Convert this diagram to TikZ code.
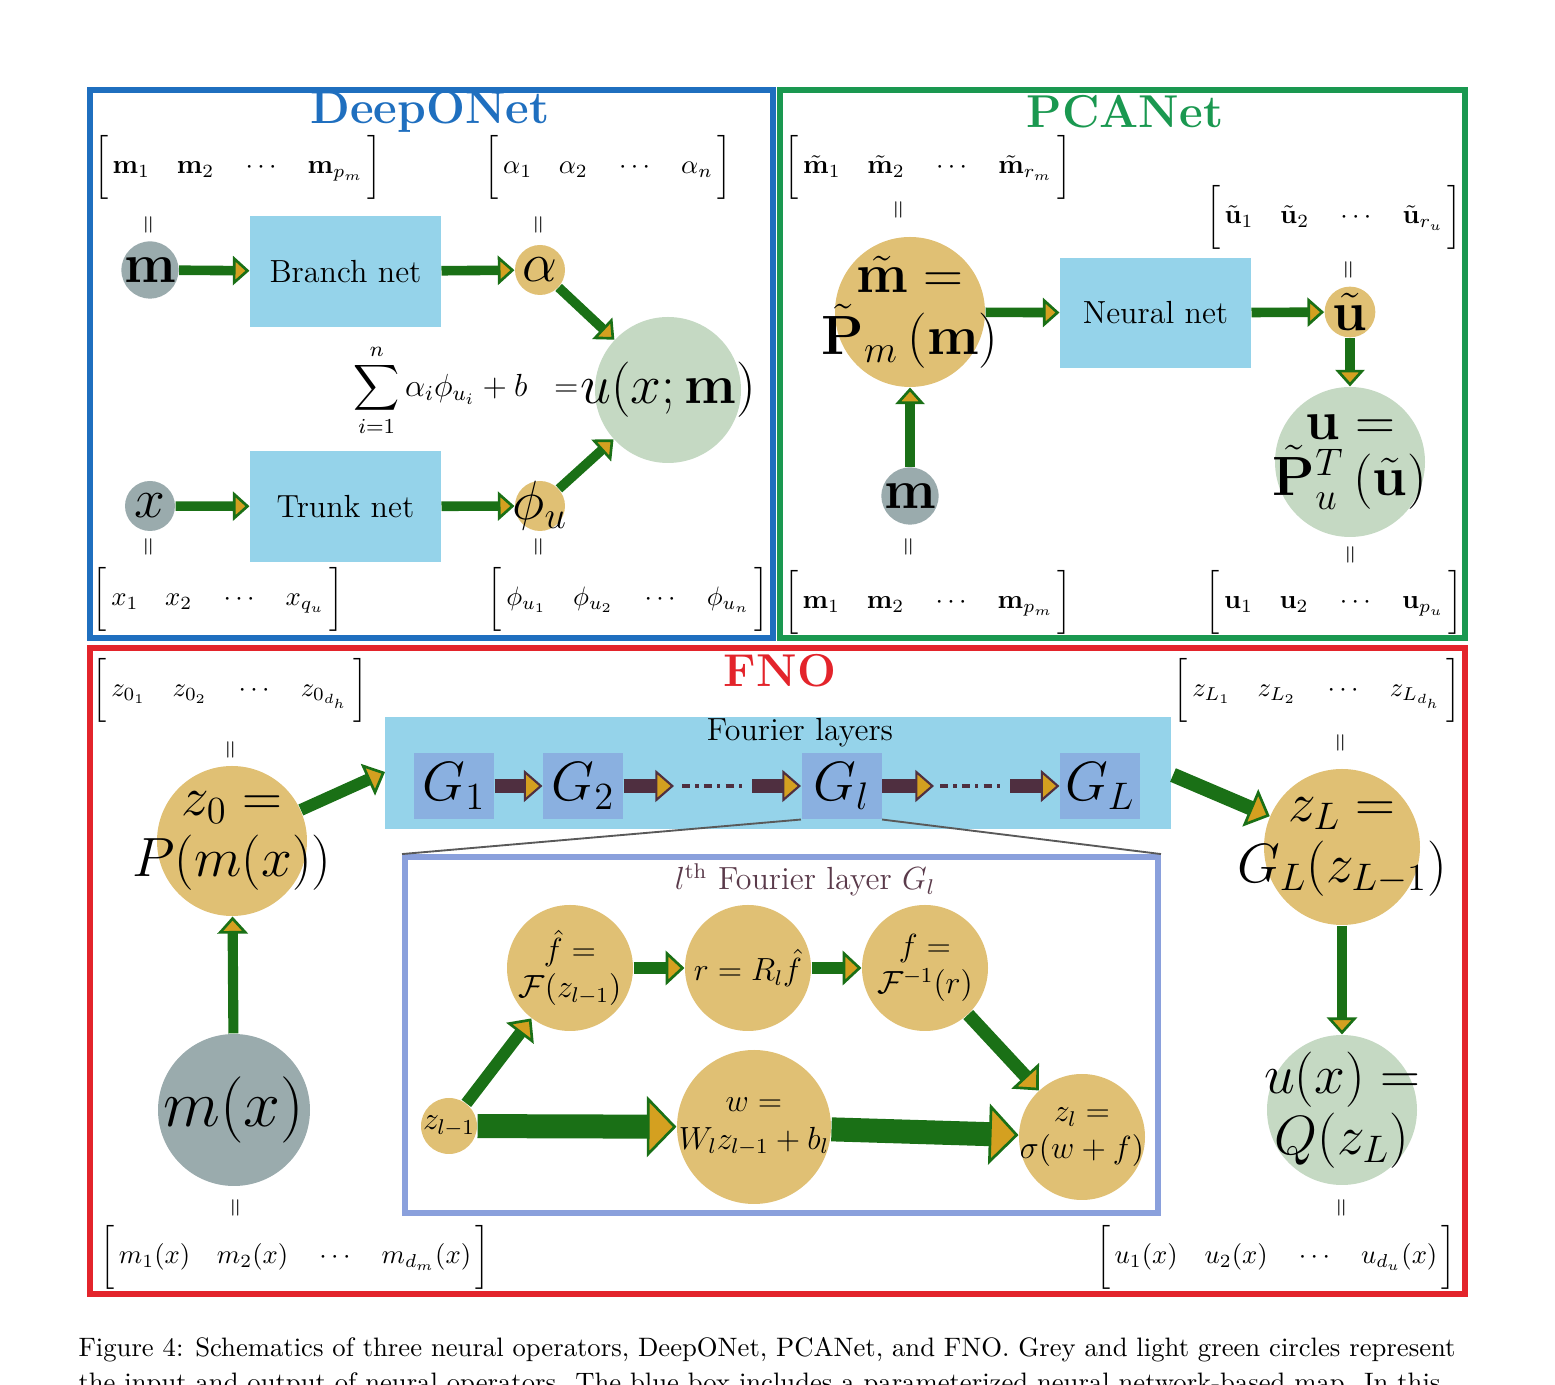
\documentclass[tikz,border=0pt]{standalone}
\usepackage{amsmath,amssymb,bm}
\usetikzlibrary{arrows.meta}
\definecolor{fblue}{HTML}{1F6FBF}
\definecolor{fgreen}{HTML}{1A9850}
\definecolor{fred}{HTML}{E3242B}
\definecolor{lblue}{HTML}{95D3EA}
\definecolor{gbox}{HTML}{8AB0E0}
\definecolor{ibox}{HTML}{8AA0DC}
\definecolor{orng}{HTML}{E0C074}
\definecolor{grey}{HTML}{9AABAD}
\definecolor{lgreen}{HTML}{C5D9C3}
\definecolor{agreen}{HTML}{1A7016}
\definecolor{ahead}{HTML}{D4A020}
\definecolor{purp}{HTML}{4F2F40}
\definecolor{tpurp}{HTML}{5A3A4A}
\newcommand\vrow[1]{$\bigg[\,#1\,\bigg]$}
\newcommand\eqv{\rotatebox{90}{$=$}}
\tikzset{
 frame/.style={line width=1.9pt},
 ttl/.style={font=\LARGE\bfseries},
 vec/.style={font=\normalsize, inner sep=0pt},
 par/.style={inner sep=0pt, font=\small},
 circ/.style={circle, inner sep=0pt, minimum size=#1*0.375pt, align=center},
 oc/.style={circ=#1, fill=orng},
 gc/.style={circ=#1, fill=grey},
 lc/.style={circ=#1, fill=lgreen},
 ct/.style={inner sep=0pt, align=center},
 bx/.style={fill=lblue, inner sep=0pt, font=\large, minimum width=71.6pt, minimum height=41.6pt},
 gb/.style={fill=gbox, inner sep=0pt, minimum width=30pt, minimum height=24.75pt, font=\huge},
 ga/.style={draw=agreen, line width=#1, -{Triangle[length=3pt 0.9, width=3pt 2.2, fill=ahead, line width=1pt]}},
 ga/.default=3.6pt,
 pa/.style={draw=purp, line width=5pt, -{Triangle[length=2pt 1.0, width=2pt 2.0, fill=ahead, line width=0.8pt]}},
}
\begin{document}
\begin{tikzpicture}[x=0.375pt,y=-0.375pt]
\useasboundingbox (0,0) rectangle (1555,1385);
% frames
\draw[frame,fblue] (90,90) rectangle (773,638);
\draw[frame,fgreen] (780,90) rectangle (1465,638);
\draw[frame,fred] (90,648) rectangle (1465,1294);
\node[ttl,text=fblue] (t1) at (430,112) {DeepONet};
\node[ttl,text=fgreen] (t2) at (1125,112) {PCANet};
\node[ttl,text=fred] (t3) at (780,671) {FNO};

% ---------- DeepONet
\node[vec] (vm) at (238,167) {\vrow{\mathbf{m}_1\quad\mathbf{m}_2\quad\cdots\quad\mathbf{m}_{p_m}}};
\node[vec] (va) at (608,167) {\vrow{\alpha_1\quad\alpha_2\quad\cdots\quad\alpha_n}};
\node[par] (p1) at (150,225) {\eqv};
\node[par] (p2) at (540,225) {\eqv};
\node[gc=50] (m) at (150,270) {\huge$\mathbf{m}$};
\node[bx] (bn) at (345.5,271.5) {Branch net};
\node[oc=50] (al) at (540,270) {\huge$\alpha$};
\node[lc=146] (u) at (668,390) {};
\node[ct, font=\huge] (ut1) at (668,390) {$u(x;\mathbf{m})$};
\node[font=\large] (sum) at (466,390) {$\displaystyle\sum_{i=1}^{n}\alpha_i\phi_{u_i}+b\;\;=$};
\node[gc=50] (x) at (150,506) {\huge$x$};
\node[bx] (tn) at (345.5,506.5) {Trunk net};
\node[oc=50] (ph) at (540,506) {};
\node[ct, font=\huge] (pht) at (540,506) {$\phi_u$};
\node[par] (p3) at (150,547) {\eqv};
\node[par] (p4) at (540,547) {\eqv};
\node[vec] (vx) at (218,599) {\vrow{x_1\quad x_2\quad\cdots\quad x_{q_u}}};
\node[vec] (vp) at (628,599) {\vrow{\phi_{u_1}\quad\phi_{u_2}\quad\cdots\quad\phi_{u_n}}};
\draw[ga] (m) -- (bn);
\draw[ga] (bn) -- (al);
\draw[ga] (al) -- (u);
\draw[ga] (x) -- (tn);
\draw[ga] (tn) -- (ph);
\draw[ga] (ph) -- (u);

% ---------- PCANet
\node[vec] (vmt) at (928,167) {\vrow{\tilde{\mathbf{m}}_1\quad\tilde{\mathbf{m}}_2\quad\cdots\quad\tilde{\mathbf{m}}_{r_m}}};
\node[par] (p5) at (900,210) {\eqv};
\node[oc=150] (pm) at (910,312) {};
\node[ct, font=\huge] (pmt) at (910,312) {$\tilde{\mathbf{m}}=$\\[-2pt]$\tilde{\mathbf{P}}_m\,(\mathbf{m})$};
\node[bx] (nn) at (1155.5,313) {Neural net};
\node[vec] (vut) at (1334,217) {\vrow{\tilde{\mathbf{u}}_1\quad\tilde{\mathbf{u}}_2\quad\cdots\quad\tilde{\mathbf{u}}_{r_u}}};
\node[par] (p6) at (1350,270) {\eqv};
\node[oc=50] (ut) at (1350,312) {\huge$\tilde{\mathbf{u}}$};
\node[lc=150] (uu) at (1350,462) {};
\node[ct, font=\huge] (uut) at (1350,462) {$\mathbf{u}=$\\[-4pt]$\tilde{\mathbf{P}}_u^T\,(\tilde{\mathbf{u}})$};
\node[gc=50] (m2) at (910,496) {\huge$\mathbf{m}$};
\node[par] (p7) at (910,547) {\eqv};
\node[par] (p8) at (1352,555) {\eqv};
\node[vec] (vm2) at (928,602) {\vrow{\mathbf{m}_1\quad\mathbf{m}_2\quad\cdots\quad\mathbf{m}_{p_m}}};
\node[vec] (vu2) at (1334,602) {\vrow{\mathbf{u}_1\quad\mathbf{u}_2\quad\cdots\quad\mathbf{u}_{p_u}}};
\draw[ga] (pm) -- (nn);
\draw[ga] (nn) -- (ut);
\draw[ga] (ut) -- (uu);
\draw[ga] (m2) -- (pm);

% ---------- FNO
\node[vec] (vz0) at (230,690) {\vrow{z_{0_1}\quad z_{0_2}\quad\cdots\quad z_{0_{d_h}}}};
\node[vec] (vzL) at (1317,690) {\vrow{z_{L_1}\quad z_{L_2}\quad\cdots\quad z_{L_{d_h}}}};
\node[par] (p9) at (232,750) {\eqv};
\node[par] (p10) at (1342,743) {\eqv};
\node[oc=150] (z0) at (232,841) {};
\node[ct, font=\huge] (z0t) at (232,841) {$z_0=$\\[-2pt]$P(m(x))$};
\node[fill=lblue, minimum width=294.75pt, minimum height=42pt, inner sep=0pt] (fl) at (778,773) {};
\node[font=\large] (flt) at (800,733) {Fourier layers};
\node[gb] (g1) at (454,786) {$G_1$};
\node[gb] (g2) at (583,786) {$G_2$};
\node[gb] (gl) at (841.5,786) {$G_l$};
\node[gb] (gL) at (1100,786) {$G_L$};
\coordinate (c1) at (674,786);
\coordinate (c2) at (752,786);
\coordinate (c3) at (934,786);
\coordinate (c4) at (1010,786);
\draw[pa] (g1) -- (g2);
\draw[pa] (g2) -- (c1);
\draw[purp, line width=1.2pt, dash dot] (682,786) -- (746,786);
\draw[pa] (c2) -- (gl);
\draw[pa] (gl) -- (c3);
\draw[purp, line width=1.2pt, dash dot] (940,786) -- (1004,786);
\draw[pa] (c4) -- (gL);
\node[draw=ibox, line width=2.2pt, minimum width=282.4pt, minimum height=133.5pt, inner sep=0pt] (ib) at (781.5,1035) {};
\draw[gray!70!black, line width=0.7pt] (gl.south west) -- (ib.north west);
\draw[gray!70!black, line width=0.7pt] (gl.south east) -- (ib.north east);
\node[font=\large, text=tpurp] (ibt) at (805,880) {$l^{\text{th}}$ Fourier layer $G_l$};
\node[oc=126] (fh) at (570,968) {};
\node[ct, font=\large] (fht) at (570,968) {$\hat f=$\\$\mathcal{F}(z_{l-1})$};
\node[oc=126] (rr) at (748,968) {};
\node[ct, font=\large] (rrt) at (748,968) {$r=R_l\hat f$};
\node[oc=126] (ff) at (925,968) {};
\node[ct, font=\large] (fft) at (925,968) {$f=$\\$\mathcal{F}^{-1}(r)$};
\node[oc=56] (zl1) at (449,1126) {};
\node[ct, font=\large] (zl1t) at (449,1126) {$z_{l-1}$};
\node[oc=154] (ww) at (754,1127) {};
\node[ct, font=\large] (wwt) at (754,1127) {$w=$\\$W_lz_{l-1}+b_l$};
\node[oc=126] (zl) at (1082,1137) {};
\node[ct, font=\large] (zlt) at (1082,1137) {$z_l=$\\$\sigma(w+f)$};
\draw[ga=4.5pt] (zl1) -- (fh);
\draw[ga=4.5pt] (fh) -- (rr);
\draw[ga=4.5pt] (rr) -- (ff);
\draw[ga=5pt] (ff) -- (zl);
\draw[ga=9pt] (zl1) -- (ww);
\draw[ga=9pt] (ww) -- (zl);
\node[oc=156] (zL) at (1342,847) {};
\node[ct, font=\huge] (zLt) at (1342,847) {$z_L=$\\[-2pt]$G_L(z_{L-1})$};
\node[lc=150] (uq) at (1342,1110) {};
\node[ct, font=\huge] (uqt) at (1342,1110) {$u(x)=$\\[-2pt]$Q(z_L)$};
\node[gc=152] (mx) at (234,1110) {};
\node[ct, font=\Huge] (mxt) at (234,1110) {$m(x)$};
\coordinate (flw) at (385,772);
\coordinate (fle) at (1173,775);
\draw[ga=4.5pt] (z0) -- (flw);
\draw[ga=5.5pt] (fle) -- (zL);
\draw[ga=3.8pt] (zL) -- (uq);
\draw[ga=3.8pt] (mx) -- (z0);
\node[par] (p11) at (237,1208) {\eqv};
\node[par] (p12) at (1343,1208) {\eqv};
\node[vec] (vmx) at (295,1257) {\vrow{m_1(x)\quad m_2(x)\quad\cdots\quad m_{d_m}(x)}};
\node[vec] (vux) at (1276,1257) {\vrow{u_1(x)\quad u_2(x)\quad\cdots\quad u_{d_u}(x)}};

% caption
\node[anchor=west, inner sep=0pt] (cap1) at (78,1350) {Figure 4: Schematics of three neural operators, DeepONet, PCANet, and FNO. Grey and light green circles represent};
\node[anchor=west, inner sep=0pt] (cap2) at (78,1385) {the input and output of neural operators. The blue box includes a parameterized neural network-based map. In this};
\end{tikzpicture}
\end{document}
